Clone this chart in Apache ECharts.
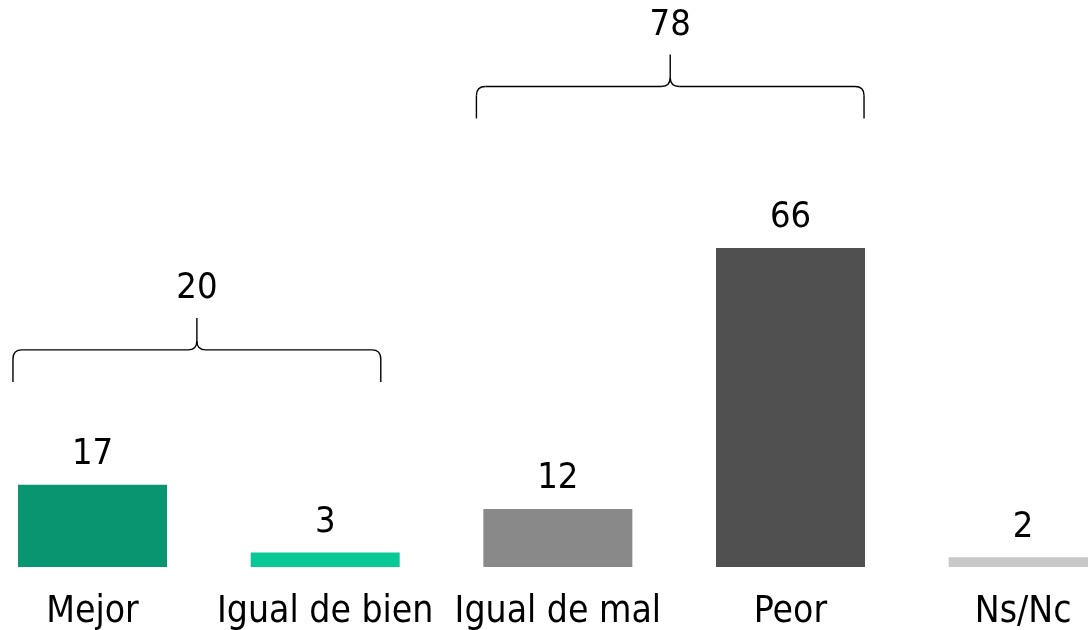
<!DOCTYPE html>
<html>
<head>
<meta charset="utf-8">
<script src="https://cdn.jsdelivr.net/npm/echarts@6/dist/echarts.min.js"></script>
<style>
html,body{margin:0;padding:0;background:#fff;}
#chart{width:1088px;height:630px;}
</style>
</head>
<body>
<div id="chart"></div>
<script>
// ---- data ----
const categories = ['Mejor', 'Igual de bien', 'Igual de mal', 'Peor', 'Ns/Nc'];
const values = [17, 3, 12, 66, 2];
const groupStart = [0, 2];
const groupEnd = [1, 3];
const groupTotals = [20, 78];

// ---- styles / annotation layout ----
const palette = ['#07966F', '#07C896', '#898989', '#505050', '#C8C8C8'];
const FONT = '"DejaVu Sans Condensed", "DejaVu Sans", sans-serif';
// brace extents as fractions of a category band, and base level in axis units
const braceLayout = [
  { from: -0.342, to: 0.239, base: 38.3 },
  { from: -0.350, to: 0.316, base: 92.8 }
];

const chart = echarts.init(document.getElementById('chart'), null, { renderer: 'canvas' });

const braceData = groupStart.map((s, i) => [s, groupEnd[i], groupTotals[i], i]);

function renderBrace(params, api) {
  const i = api.value(3);
  const lay = braceLayout[i];
  const band = api.size([1, 0])[0];
  const pS = api.coord([api.value(0), lay.base]);
  const pE = api.coord([api.value(1), lay.base]);
  const x1 = pS[0] + lay.from * band;
  const x2 = pE[0] + lay.to * band;
  const yb = pS[1];
  const depth = 32, r = 9;
  const yh = yb - depth;
  const yp = yh - depth;
  const xm = (x1 + x2) / 2;
  const ls = { stroke: '#000', lineWidth: 1.4, fill: null };
  const children = [
    { type: 'line', shape: { x1: x1, y1: yb, x2: x1, y2: yh + r }, style: ls },
    { type: 'bezierCurve', shape: { x1: x1, y1: yh + r, cpx1: x1, cpy1: yh, x2: x1 + r, y2: yh }, style: ls },
    { type: 'line', shape: { x1: x1 + r, y1: yh, x2: xm - r, y2: yh }, style: ls },
    { type: 'bezierCurve', shape: { x1: xm - r, y1: yh, cpx1: xm, cpy1: yh, x2: xm, y2: yh - r }, style: ls },
    { type: 'line', shape: { x1: xm, y1: yh - r, x2: xm, y2: yp }, style: ls },
    { type: 'bezierCurve', shape: { x1: xm + r, y1: yh, cpx1: xm, cpy1: yh, x2: xm, y2: yh - r }, style: ls },
    { type: 'line', shape: { x1: xm + r, y1: yh, x2: x2 - r, y2: yh }, style: ls },
    { type: 'bezierCurve', shape: { x1: x2 - r, y1: yh, cpx1: x2, cpy1: yh, x2: x2, y2: yh + r }, style: ls },
    { type: 'line', shape: { x1: x2, y1: yh + r, x2: x2, y2: yb }, style: ls },
    {
      type: 'text',
      style: {
        text: String(api.value(2)),
        x: xm, y: yp - 29,
        align: 'center', verticalAlign: 'middle',
        fontSize: 36, fontFamily: FONT, fill: '#000'
      }
    }
  ];
  return { type: 'group', children: children };
}

const option = {
  animation: false,
  backgroundColor: '#fff',
  grid: { left: -23.8, width: 1163.3, bottom: 63, top: -13, containLabel: false, outerBoundsMode: 'none' },
  xAxis: {
    type: 'category',
    data: categories,
    axisLine: { show: false },
    axisTick: { show: false },
    axisLabel: {
      interval: 0,
      margin: 27,
      fontSize: 37,
      fontFamily: FONT,
      color: '#000'
    }
  },
  yAxis: {
    type: 'value',
    min: 0, max: 120,
    show: false,
    splitLine: { show: false }
  },
  series: [
    {
      type: 'bar',
      data: values.map((v, i) => ({ value: v, itemStyle: { color: palette[i] } })),
      barWidth: 149,
      label: {
        show: true,
        position: 'top',
        distance: 12,
        fontSize: 36,
        fontFamily: FONT,
        color: '#000'
      }
    },
    {
      type: 'custom',
      renderItem: renderBrace,
      data: braceData,
      encode: { x: [0, 1], y: 2 },
      clip: false,
      silent: true,
      z: 5
    }
  ]
};
chart.setOption(option);
</script>
</body>
</html>
